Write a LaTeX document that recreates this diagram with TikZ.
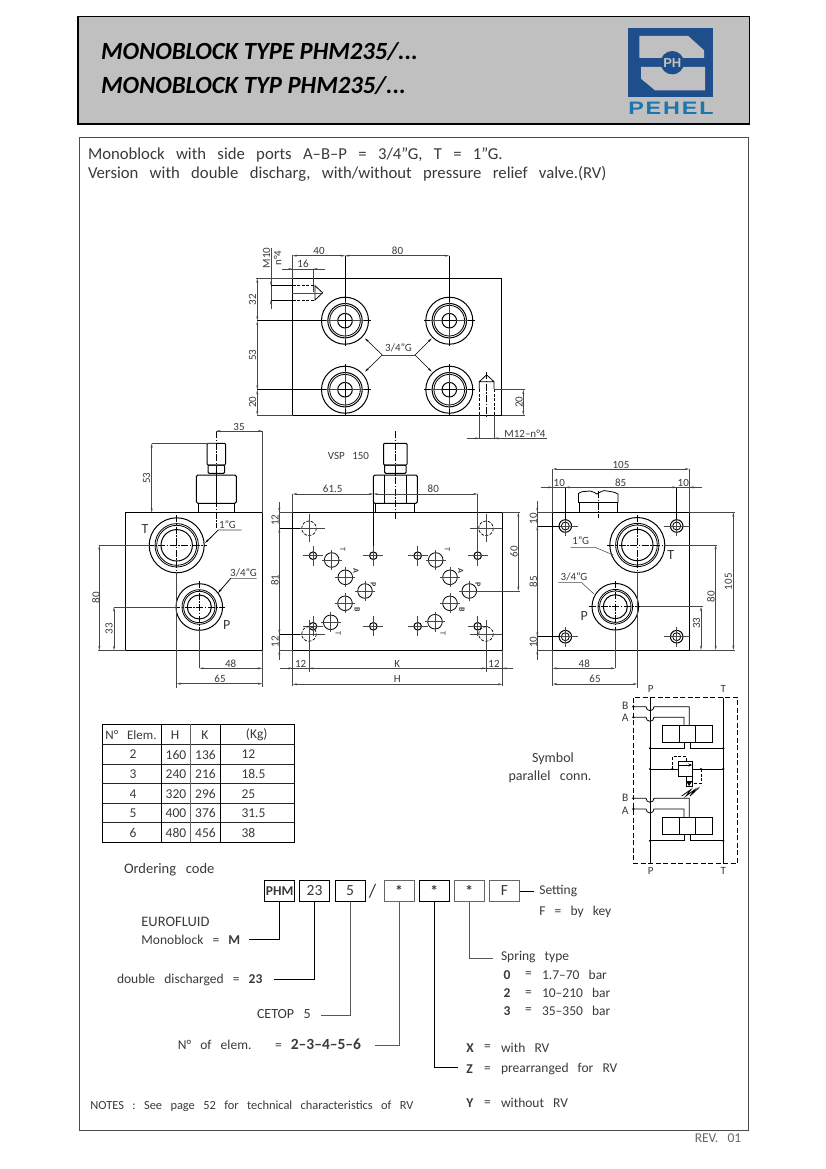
\documentclass[tikz,border=0pt]{standalone}
\usepackage{graphicx}
\usepackage{fontspec}
\setmainfont{Carlito}[WordSpace=3]
\newfontfamily\headfont{Carlito}[BoldItalicFont={Carlito Bold Italic}]
\newfontfamily\logofont{Liberation Sans}
\usetikzlibrary{arrows.meta}
\definecolor{hgrey}{HTML}{C0C0C0}
\definecolor{logoblue}{HTML}{1F4E8C}
\definecolor{logotxt}{HTML}{1B75AE}
\definecolor{inkc}{HTML}{3A3A3A}
\newcounter{nn}
\newcommand{\lab}[3][]{\stepcounter{nn}\node[lbl,#1] (t\arabic{nn}) at (#2) {#3};}
\tikzset{
  lbl/.style={inner sep=0pt,outer sep=0pt,font=\fontsize{11}{12}\selectfont,text=inkc,anchor=center},
  rot/.style={rotate=90},
  heavy/.style={line width=1pt,draw=black},
  mid/.style={line width=.8pt,draw=black},
  thinl/.style={line width=.55pt,draw=black!72},
  cline/.style={line width=.55pt,draw=black,dash pattern=on 7pt off 1.5pt on 1.5pt off 1.5pt},
  hid/.style={line width=.7pt,draw=black,dash pattern=on 3pt off 1.5pt},
  dim/.style={thinl,{Stealth[length=4.5pt,width=2pt]}-{Stealth[length=4.5pt,width=2pt]}},
  dimr/.style={thinl,-{Stealth[length=4.5pt,width=2pt]}},
  boxc/.style={draw=black,line width=.9pt,minimum width=30pt,minimum height=20.6pt,inner sep=0pt,text=inkc,font=\fontsize{15.5}{16}\selectfont},
  txt/.style={lbl,anchor=west,font=\fontsize{13.5}{14}\selectfont},
  dot/.style={fill=black,draw=none},
}
\newcommand{\topport}[2]{%
  \draw[heavy] (#1,#2) circle (23.5);
  \draw[heavy] (#1,#2) circle (17.2);
  \draw[mid] (#1,#2) circle (15.3);
  \draw[heavy] (#1,#2) circle (7.3);
  \draw[mid] (#1-25.7,#2)--(#1-19,#2) (#1-7,#2)--(#1+7,#2) (#1+19,#2)--(#1+25.7,#2);
  \draw[mid] (#1,#2-25.7)--(#1,#2-19) (#1,#2-7)--(#1,#2+7) (#1,#2+19)--(#1,#2+25.7);
  \draw[thinl] (#1-19,#2)--(#1-7,#2) (#1+7,#2)--(#1+19,#2) (#1,#2-19)--(#1,#2-7) (#1,#2+7)--(#1,#2+19);
}
\newcommand{\bigT}[2]{%
  \draw[heavy] (#1,#2) circle (27.5);
  \draw[mid] (#1,#2) circle (21.7);
  \draw[mid] (#1,#2) circle (20);
  \draw[heavy] (#1,#2) circle (15.7);
  \draw[cline] (#1-30,#2)--(#1+30,#2) (#1,#2-30)--(#1,#2+30);
}
\newcommand{\bigP}[2]{%
  \draw[heavy] (#1,#2) circle (23.3);
  \draw[mid] (#1,#2) circle (17.3);
  \draw[mid] (#1,#2) circle (15.7);
  \draw[heavy] (#1,#2) circle (12);
  \draw[cline] (#1-26,#2)--(#1+26,#2) (#1,#2-26)--(#1,#2+26);
}
\newcommand{\smallh}[2]{%
  \draw[heavy] (#1,#2) circle (3.8);
  \draw[thinl] (#1-10,#2)--(#1+10,#2) (#1,#2-10)--(#1,#2+10);
}
\newcommand{\medh}[2]{%
  \draw[mid] (#1,#2) circle (7.3);
  \draw[thinl] (#1-10,#2)--(#1+10,#2) (#1,#2-10)--(#1,#2+10);
}
\newcommand{\dashh}[2]{%
  \draw[hid] (#1,#2) circle (7.3);
  \draw[thinl] (#1-16,#2)--(#1+16,#2) (#1,#2-14)--(#1,#2+14);
}
\newcommand{\sidehole}[2]{%
  \draw[heavy] (#1,#2) circle (6.3);
  \draw[mid] (#1,#2) circle (4);
  \draw[thinl] (#1-13,#2)--(#1+13,#2) (#1,#2-10)--(#1,#2+10);
}
% fitting: centre x, nut half width, upper half width, neck half width, hex line offset
\newcommand{\fitting}[5]{%
  \draw[heavy] (#1-#4,503.3) -- (#1-#4,512.3) (#1+#4,503.3) -- (#1+#4,512.3);
  \draw[heavy,rounded corners=1.5pt] (#1-#2,503.3) -- (#1-#2,475) -- (#1+#2,475) -- (#1+#2,503.3) -- cycle;
  \draw[mid] (#1-#5,475)--(#1-#5,503.3) (#1+#5,475)--(#1+#5,503.3);
  \draw[heavy,rounded corners=1pt] (#1-#3+1,473.3) rectangle (#1+#3-1,465);
  \draw[heavy,rounded corners=1pt] (#1-#3,465) rectangle (#1+#3,443.3);
}
\newcommand{\valve}[3]{%
  \draw[heavy] (662.3,#1) rectangle (712.3,#1+17) (679.3,#1)--(679.3,#1+17) (695.7,#1)--(695.7,#1+17);
  \draw[mid] (633.3,#2)--(646,#2) arc[start angle=180,end angle=0,radius=4] --(689.3,#2)--(689.3,#1);
  \draw[mid] (633.3,#3)--(646,#3) arc[start angle=180,end angle=0,radius=4] --(684,#3)--(684,#1);
  \draw[mid] (684,#1+17)--(684,#1+23.3)--(650,#1+23.3);
  \draw[mid] (690,#1+17)--(690,#1+23.3)--(723.3,#1+23.3);
  \fill[dot] (650,#1+23.3) circle (1.2) (723.3,#1+23.3) circle (1.2) (633.3,#2) circle (1.2) (633.3,#3) circle (1.2);
}
\begin{document}
\begin{tikzpicture}[x=1pt,y=-1pt]
\useasboundingbox (0,0) rectangle (826,1169);
\fill[white] (0,0) rectangle (826,1169);
% ---- header
\draw[line width=1.2pt,fill=hgrey] (78,16.5) rectangle (749.5,124);
\draw[line width=1pt,draw=black!70] (79,138) rectangle (748.5,1130.5);
\lab[anchor=west,text=black,font=\headfont\fontsize{24.7}{26}\bfseries\itshape\selectfont]{101,52}{MONOBLOCK TYPE PHM235/...}
\lab[anchor=west,text=black,font=\headfont\fontsize{24.7}{26}\bfseries\itshape\selectfont]{101,85.5}{MONOBLOCK TYP PHM235/...}
% logo
\fill[logoblue] (628.3,28) rectangle (713,97);
\fill[hgrey] (639.3,36)--(688.3,36)--(704,50.3)--(704,58)--(639.3,58)--cycle;
\fill[hgrey] (641,67)--(705,67)--(705,90.3)--(655,90.3)--(641,78.7)--cycle;
\fill[logoblue] (672.3,62.7) circle (11.7);
\lab[text=hgrey,font=\logofont\fontsize{13}{14}\bfseries\selectfont]{672.3,62.7}{PH}
\lab[text=logotxt,font=\logofont\fontsize{18}{19}\bfseries\selectfont]{671,108.5}{\scalebox{1.3}[1]{\addfontfeature{LetterSpace=8}PEHEL}}
% ---- intro
\lab[txt,font=\fontsize{16.7}{18}\selectfont]{88,154.5}{Monoblock with side ports A--B--P = 3/4"G, T = 1"G.}
\lab[txt,font=\fontsize{16.7}{18}\selectfont]{88,174}{Version with double discharg, with/without pressure relief valve.(RV)}

% ---- top view
\draw[heavy] (292.5,278.3) rectangle (501.7,415.3);
\draw[line width=1.4pt] (501.7,278.3)--(501.7,415.3);
\foreach \x in {345,449.3}\foreach \y in {320.7,389.7}{\topport{\x}{\y}}
\draw[thinl] (292.5,255)--(292.5,278.3);
\draw[mid] (345,255.7)--(345,295) (449.3,255.7)--(449.3,295);
\draw[dim] (292.5,255.7)--(345,255.7);
\draw[dim] (345,255.7)--(449.3,255.7);
\lab{319,251}{40}\lab{397.5,251}{80}
\draw[thinl] (313.3,269)--(313.3,292);
\draw[thinl] (282,269)--(325,269);
\draw[dimr] (282,269)--(292.5,269);
\draw[dimr] (325,269)--(313.3,269);
\lab{303,264}{16}
\lab[rot]{266.5,258}{M10}\lab[rot]{277.5,258}{n°4}
\draw[thinl] (271,248)--(271,309);
\draw[dimr] (271,248)--(271,285.7);
\draw[dimr] (271,309)--(271,300);
\draw[mid] (271,285.7)--(292.5,285.7) (271,300)--(292.5,300);
\draw[hid] (292.5,285.7)--(315,285.7) (292.5,300)--(315,300);
\draw[mid] (315,285.7)--(322.7,292.8)--(315,300)--cycle;
\draw[thinl] (291.5,292.8)--(322.7,292.8);
\draw[thinl] (256,278.3)--(292.5,278.3);
\draw[thinl] (257,415.3)--(292.5,415.3);
\draw[mid] (257,320.7)--(320,320.7) (257,389.7)--(320,389.7);
\draw[dim] (257.3,278.3)--(257.3,320.7);
\draw[dim] (257.3,320.7)--(257.3,389.7);
\draw[dim] (257.3,389.7)--(257.3,415.3);
\lab[rot]{252.5,299.5}{32}\lab[rot]{252.5,355}{53}\lab[rot]{252.5,402}{20}
\lab{398.5,347.5}{3/4"G}
\draw[thinl] (382.3,355)--(415,355);
\draw[dimr,draw=black] (382.3,355)--(365,338.3);
\draw[dimr,draw=black] (382.3,355)--(365,371.7);
\draw[dimr,draw=black] (415,355)--(431.7,338.3);
\draw[dimr,draw=black] (415,355)--(431.7,371.7);
\draw[mid] (479.3,389)--(479.3,381.7)--(486.6,374.8)--(494,381.7)--(494,389) (479.3,381.7)--(494,381.7);
\draw[hid] (479.3,389)--(479.3,415.3) (494,389)--(494,415.3);
\draw[cline] (486.6,372)--(486.6,418);
\draw[thinl] (479.3,415.3)--(479.3,438.3) (494,415.3)--(494,438.3);
\draw[thinl] (494,389.7)--(525,389.7) (501.7,415.3)--(525,415.3);
\draw[dim] (523.3,389.7)--(523.3,415.3);
\lab[rot]{519,402}{20}
\draw[thinl] (466.7,438.3)--(546.7,438.3);
\draw[dimr] (466.7,438.3)--(479.3,438.3);
\draw[dimr] (507,438.3)--(494,438.3);
\lab{525,434}{M12--n°4}

% ---- left view
\draw[heavy] (125.7,512.7) rectangle (262.3,650.3);
\fitting{216.3}{20}{9.2}{18}{0}
\draw[cline] (216.3,431)--(216.3,528);
\bigT{176.7}{545.3}
\bigP{199.3}{607}
\draw[thinl] (262.3,431)--(262.3,512.7) (216.3,431)--(262.3,431);
\draw[dim] (216.3,431)--(262.3,431);
\lab{239,427}{35}
\draw[thinl] (151.7,443.3)--(216.3,443.3);
\draw[dim] (151.7,443.3)--(151.7,512.7);
\lab[rot]{146.7,478}{53}
\draw[thinl] (99.3,545.3)--(150,545.3) (98,650.3)--(125.7,650.3) (114,607)--(176,607);
\draw[dim] (99.3,545.3)--(99.3,650.3);
\draw[dim] (114,607)--(114,650.3);
\lab[rot]{96,597.5}{80}\lab[rot]{109,628.5}{33}
\draw[thinl] (206.7,541.7)--(218.3,530)--(241.7,530);
\draw[thinl] (219.3,591.7)--(230.7,578.3)--(256.7,578.3);
\draw[dimr,draw=black] (218.3,530)--(205,543);
\draw[dimr,draw=black] (230.7,578.3)--(218,593);
\lab{227.5,525}{1"G}\lab{243.5,573}{3/4"G}
\lab[font=\fontsize{14}{15}\selectfont]{145,529.5}{T}\lab[font=\fontsize{14}{15}\selectfont]{226.7,625}{P}
\draw[thinl] (199.3,630)--(199.3,668.3) (262.3,650.3)--(262.3,687) (176.7,572)--(176.7,688);
\draw[dim] (199.3,668.3)--(262.3,668.3);
\draw[dim] (176.7,683.7)--(262.3,683.7);
\lab{230.7,663.5}{48}\lab{220,679}{65}

% ---- front view
\draw[heavy] (292.7,512.3) rectangle (502.3,650.3);
\fitting{395.3}{22}{11.7}{19.5}{11}
\draw[cline] (395.3,431)--(395.3,519);
\lab{348.5,456}{VSP 150}
\draw[thinl] (292.7,494)--(292.7,512.3);
\draw[mid] (373.3,494)--(373.3,552);
\draw[thinl] (477.7,494)--(477.7,552);
\draw[dim] (292.7,494)--(373.3,494);
\draw[dim] (373.3,494)--(477.7,494);
\lab{332.7,489}{61.5}\lab{433.3,488.5}{80}
\foreach \x in {313,373.3,417.7,477.7}{\smallh{\x}{555.7}\smallh{\x}{626.3}}
\foreach \x/\y in {331.7/560,345.3/577.3,365/591,345/603.3,330.7/622.3,435.7/560,450/577.3,469.3/591,450/603.3,435/621.7}{\medh{\x}{\y}}
\foreach \x/\y in {309/528.3,486/528.3,309/634,486/634}{\dashh{\x}{\y}}
\foreach \d in {0,104.7}{
  \pgfmathsetmacro{\xa}{342.7+\d}\pgfmathsetmacro{\xb}{356+\d}\pgfmathsetmacro{\xc}{373.3+\d}\pgfmathsetmacro{\xd}{357.3+\d}\pgfmathsetmacro{\xe}{338.3+\d}
  \lab[rotate=-90,font=\fontsize{8}{9}\selectfont]{\xa,549.3}{T}
  \lab[rotate=-90,font=\fontsize{8}{9}\bfseries\selectfont]{\xb,571}{A}
  \lab[rotate=-90,font=\fontsize{8}{9}\bfseries\selectfont]{\xc,585}{P}
  \lab[rotate=-90,font=\fontsize{8}{9}\bfseries\selectfont]{\xd,609.3}{B}
  \lab[rotate=-90,font=\fontsize{8}{9}\selectfont]{\xe,633.7}{T}
}
\draw[thinl] (279.3,512.3)--(292.7,512.3) (279.3,650.3)--(292.7,650.3);
\draw[mid] (279.3,528.3)--(300,528.3) (279.3,634)--(300,634);
\draw[thinl] (279.3,501.7)--(279.3,660);
\draw[dimr] (279.3,503)--(279.3,512.3);
\draw[dim] (279.3,528.3)--(279.3,634);
\draw[dimr] (279.3,660)--(279.3,650.3);
\lab[rot]{275,520}{12}\lab[rot]{275,580}{81}\lab[rot]{275,641.7}{12}
\draw[thinl] (292.7,650.3)--(292.7,686) (502.3,650.3)--(502.3,686) (309,640)--(309,672) (486,640)--(486,672);
\draw[thinl] (280,668.3)--(513.3,668.3);
\draw[dimr] (280,668.3)--(292.7,668.3);
\draw[dim] (309,668.3)--(486,668.3);
\draw[dimr] (513.3,668.3)--(502.3,668.3);
\lab{300.7,664}{12}\lab{397.3,664}{K}\lab{494,664}{12}
\draw[dim] (292.7,684.3)--(502.3,684.3);
\lab{397.3,679.3}{H}
\draw[thinl] (502.3,512.3)--(520,512.3) (469.3,591)--(520,591);
\draw[dim] (518.3,512.3)--(518.3,591);
\lab[rot]{514,551.7}{60}

% ---- right view
\draw[heavy] (552.7,512.3) rectangle (689.3,650);
\draw[mid] (579.3,503)--(579.3,512.3) (617.3,503)--(617.3,512.3);
\draw[heavy] (578.5,502.8)--(618,502.8);
\draw[mid] (578.5,502.8)--(578.5,493.5) to[out=40,in=190] (590,491) to[out=10,in=170] (597,494) to[out=30,in=160] (607,491) to[out=-10,in=150] (618,494)--(618,502.8);
\draw[cline] (598.3,491)--(598.3,518);
\foreach \x/\y in {565.3/526,676.7/526,565.3/636.7,676.7/636.7}{\sidehole{\x}{\y}}
\bigT{637.3}{545}
\bigP{615.3}{606.7}
\draw[thinl] (552.7,469)--(552.7,512.3) (689.3,469)--(689.3,512.3);
\draw[mid] (565.3,487.3)--(565.3,520) (676.7,487.3)--(676.7,520);
\draw[dim] (552.7,469)--(689.3,469);
\lab{621,465}{105}
\draw[thinl] (540.7,487.3)--(701.7,487.3);
\draw[dimr] (540.7,487.3)--(552.7,487.3);
\draw[dim] (565.3,487.3)--(676.7,487.3);
\draw[dimr] (701.7,487.3)--(689.3,487.3);
\lab{559.3,482.7}{10}\lab{620.7,482.7}{85}\lab{683.3,482.7}{10}
\draw[thinl] (689.3,512.3)--(735,512.3) (665,545)--(717,545) (640,606.7)--(703,606.7) (690,650)--(735,650);
\draw[dim] (701,606.7)--(701,650);
\draw[dim] (715.7,545)--(715.7,650);
\draw[dim] (733.3,512.3)--(733.3,650);
\lab[rot]{696.5,623.3}{33}\lab[rot]{711,596.7}{80}\lab[rot]{728.3,581.7}{105}
\draw[thinl] (537.3,512.3)--(552.7,512.3) (537.3,650)--(552.7,650);
\draw[mid] (537.3,526)--(560,526) (537.3,636.7)--(560,636.7);
\draw[thinl] (537.3,501)--(537.3,660);
\draw[dimr] (537.3,501)--(537.3,512.3);
\draw[dim] (537.3,526)--(537.3,636.7);
\draw[dimr] (537.3,660)--(537.3,650);
\lab[rot]{533.3,518.5}{10}\lab[rot]{533.3,581.7}{85}\lab[rot]{533.3,642.3}{10}
\draw[thinl] (552.7,650)--(552.7,686) (615.3,630)--(615.3,668.3) (637.3,572)--(637.3,688);
\draw[dim] (552.7,668.3)--(615.3,668.3);
\draw[dim] (552.7,684)--(637.3,684);
\lab{584.3,663.3}{48}\lab{595,679.3}{65}
\draw[thinl] (570.7,547.3)--(595,547.3)--(613.3,555);
\draw[thinl] (558.3,582.7)--(581.7,582.7)--(594,594);
\lab{580.7,540.7}{1"G}\lab{574,576.7}{3/4"G}
\lab[font=\fontsize{14}{15}\selectfont]{670.7,555.3}{T}\lab[font=\fontsize{14}{15}\selectfont]{584.3,615.7}{P}

% ---- hydraulic symbol
\draw[mid,dash pattern=on 5pt off 2.5pt] (633.3,697.7) rectangle (737.7,863);
\draw[mid] (650,697.7)--(650,863) (723.3,697.7)--(723.3,863);
\lab{650.7,689}{P}\lab{723.3,689}{T}\lab{650.7,871}{P}\lab{723.3,871}{T}
\lab[font=\fontsize{11.5}{12}\selectfont]{625.3,706}{B}\lab[font=\fontsize{11.5}{12}\selectfont]{625.3,718.3}{A}
\lab[font=\fontsize{11.5}{12}\selectfont]{625.3,798.3}{B}\lab[font=\fontsize{11.5}{12}\selectfont]{625.3,810.7}{A}
\valve{725}{706.7}{717.3}
\valve{817.5}{798.3}{809}
\draw[mid] (650,769)--(678.3,769) (692.3,769)--(723.3,769);
\draw[mid] (678.3,761) rectangle (692.3,776);
\draw[mid,-{Stealth[length=4pt,width=3pt]}] (678.3,765)--(692.3,765);
\draw[mid] (686,776) rectangle (692.3,786);
\fill (686,781)--(692.3,781)--(689.1,786)--cycle;
\draw[hid] (672.3,769)--(672.3,756.7)--(686,756.7)--(686,761);
\draw[hid] (701,769)--(701,783.3)--(692.3,783.3);
\draw[mid] (681.7,796)--(691,789.5)--(686,796)--(695,789.5)--(690,796)--(699.3,787.3);
\fill[dot] (650,769) circle (1.2) (723.3,769) circle (1.2) (672.3,769) circle (1.2) (701,769) circle (1.2);
\lab[font=\fontsize{14}{15}\selectfont]{553,759}{Symbol}
\lab[font=\fontsize{14}{15}\selectfont]{550,777}{parallel conn.}

% ---- table
\draw[line width=.9pt] (102.3,724.3) rectangle (294.3,842.3);
\foreach \y in {744.3,764,783.7,803.3,822.7}{\draw[line width=.7pt,draw=black!85] (102.3,\y)--(294.3,\y);}
\draw[line width=.9pt] (161.3,724.3)--(161.3,842.3) (220.3,724.3)--(220.3,842.3);
\draw[line width=.7pt,draw=black!60] (190.7,724.3)--(190.7,842.3);
\tikzset{tc/.style={font=\fontsize{13.5}{14}\selectfont}}
\lab[font=\fontsize{13}{14}\selectfont]{131,735}{N° Elem.}\lab[tc]{175,735}{H}\lab[tc]{205,735}{K}\lab[tc]{256.7,735}{(Kg)}
\foreach \n/\h/\k/\w [count=\i from 0] in {2/160/136/12,3/240/216/18.5,4/320/296/25,5/400/376/31.5,6/480/456/38}{
  \pgfmathsetmacro{\yy}{754.5+19.6*\i}
  \lab[tc]{133,\yy}{\n}\lab[tc]{176,\yy}{\h}\lab[tc]{205.5,\yy}{\k}\lab[tc,anchor=west]{241.5,\yy}{\w}
}

% ---- ordering code
\lab[txt,font=\fontsize{14.5}{15}\selectfont]{124,869.5}{Ordering code}
\node[boxc,font=\fontsize{13.5}{14}\bfseries\selectfont] (bphm) at (279.6,891) {PHM};
\node[boxc] (b23) at (314.5,891) {23};
\node[boxc] (b5) at (350,891) {5};
\lab[font=\fontsize{19}{20}\selectfont]{372.5,891}{/}
\node[boxc,draw=black!60,font=\fontsize{15.5}{16}\bfseries\selectfont] (bs1) at (399,891) {*};
\node[boxc,font=\fontsize{15.5}{16}\bfseries\selectfont] (bs2) at (434.3,891) {*};
\node[boxc,draw=black!60,font=\fontsize{15.5}{16}\bfseries\selectfont] (bs3) at (469.3,891) {*};
\node[boxc,draw=black!60] (bf) at (504.5,891) {F};
\coordinate (lf) at (534,891);
\coordinate (lphm) at (249.3,939.3);
\coordinate (l23) at (273.6,979.3);
\coordinate (l5) at (321.4,1015);
\coordinate (ls1) at (375,1045.3);
\coordinate (ls2) at (458,1067.3);
\coordinate (ls3) at (493,958.3);
\draw[line width=.8pt] (bf.east)--(lf);
\draw[line width=.9pt] (bphm.south) |- (lphm);
\draw[line width=.9pt] (b23.south) |- (l23);
\draw[line width=.8pt,draw=black!65] (b5.south) |- (l5);
\draw[line width=.8pt,draw=black!65] (bs1.south) |- (ls1);
\draw[line width=.9pt] (bs2.south) |- (ls2);
\draw[line width=.8pt,draw=black!65] (bs3.south) |- (ls3);
\lab[txt]{539.3,890.5}{Setting}
\lab[txt]{539.3,911.7}{F = by key}
\lab[txt,font=\fontsize{14.5}{15}\selectfont]{141.4,921.7}{EUROFLUID}
\lab[txt]{141.4,940}{Monoblock = \textbf{M}}
\lab[txt]{117,979.5}{double discharged = \textbf{23}}
\lab[txt,font=\fontsize{14}{15}\selectfont]{257,1013.5}{CETOP 5}
\lab[txt]{177.9,1044.5}{N° of elem.}
\lab[txt]{275,1044.5}{= {\fontsize{15.5}{16}\bfseries\selectfont 2--3--4--5--6}}
\lab[txt]{501,956.7}{Spring type}
\foreach \yy/\a/\b in {975/0/1.7--70 bar,993.3/2/10--210 bar,1010.7/3/35--350 bar}{
  \lab[txt,font=\fontsize{13.5}{14}\bfseries\selectfont]{503.5,\yy}{\a}
  \lab[txt]{525,\yy}{=}
  \lab[txt]{542,\yy}{\b}
}
\foreach \yy/\a/\b in {1047.7/X/with RV,1069.3/Z/prearranged for RV,1103.3/Y/without RV}{
  \lab[txt,font=\fontsize{13.5}{14}\bfseries\selectfont]{466.4,\yy}{\a}
  \lab[txt]{484,\yy}{=}
  \lab[txt]{501,\yy}{\b}
}
\lab[txt,font=\fontsize{12.4}{13}\selectfont]{90.4,1106}{NOTES : See page 52 for technical characteristics of RV}
\lab[font=\fontsize{13.5}{14}\selectfont,text=black!60]{718,1138}{REV. 01}
\end{tikzpicture}
\end{document}
